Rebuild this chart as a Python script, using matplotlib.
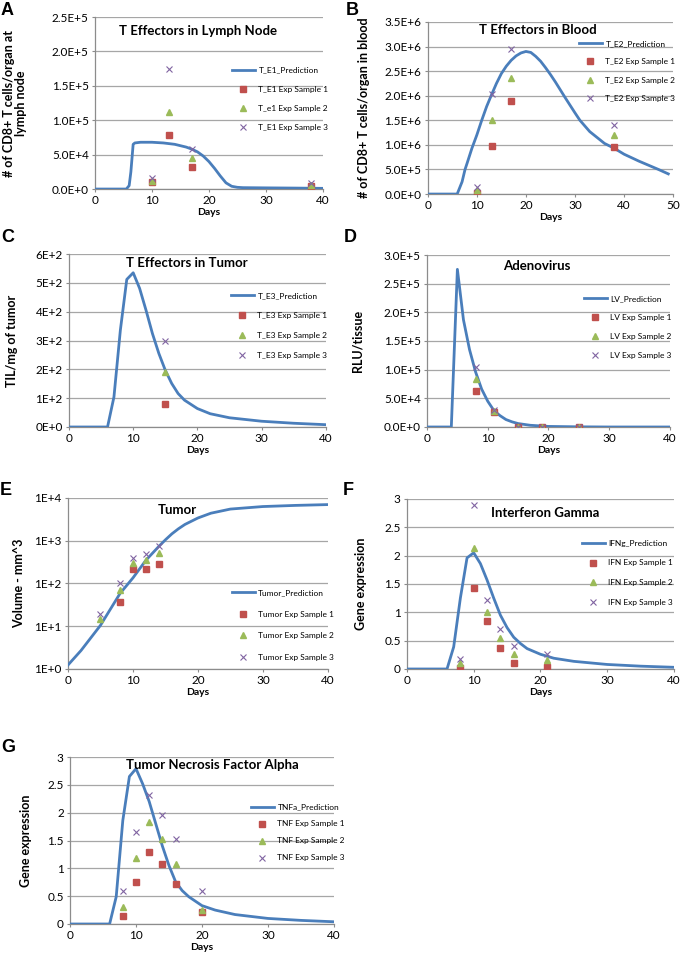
import math
import matplotlib.pyplot as plt
from matplotlib.ticker import FuncFormatter, MultipleLocator, LogLocator
from matplotlib.lines import Line2D

plt.rcParams['font.family'] = ['Lato', 'DejaVu Sans']

# ---- A: T effectors in lymph node
a_days = [0, 5.5, 6, 6.3, 6.7, 7, 8, 10, 12, 14, 16, 17, 18, 19, 20, 21, 22, 23, 24, 25, 26, 30, 35, 40]
a_pred = [0, 0, 5e3, 2.5e4, 6.5e4, 6.7e4, 6.8e4, 6.8e4, 6.7e4, 6.5e4, 6.1e4, 5.8e4, 5.4e4, 4.8e4, 4.0e4,
          3.0e4, 1.9e4, 9e3, 4e3, 2.5e3, 2e3, 1.7e3, 1.4e3, 1e3]
a_exp_days = [10, 13, 17, 38]
a_s1 = [1.0e4, 7.8e4, 3.2e4, 5e3]
a_s2 = [1.2e4, 1.12e5, 4.5e4, 6e3]
a_s3 = [1.6e4, 1.74e5, 5.8e4, 9e3]
a_labels = ["T_E1_Prediction", "T_E1 Exp Sample 1", "T_e1 Exp Sample 2", "T_E1 Exp Sample 3"]

# ---- B: T effectors in blood
b_days = [0, 6, 7, 7.6, 8, 9, 10, 11, 12, 13, 14, 15, 16, 17, 18, 19, 20, 21, 22, 23, 24, 25, 26, 27, 28,
          30, 31, 33, 36, 38, 40, 43, 47, 49]
b_pred = [0, 0, 0.25e6, 0.5e6, 0.62e6, 0.93e6, 1.2e6, 1.5e6, 1.78e6, 2.02e6, 2.25e6, 2.45e6, 2.6e6, 2.72e6,
          2.81e6, 2.87e6, 2.9e6, 2.88e6, 2.8e6, 2.7e6, 2.57e6, 2.43e6, 2.28e6, 2.12e6, 1.96e6,
          1.65e6, 1.5e6, 1.27e6, 1.03e6, 0.93e6, 0.81e6, 0.67e6, 0.5e6, 0.41e6]
b_exp_days = [10, 13, 17, 38]
b_s1 = [0.03e6, 0.97e6, 1.9e6, 0.95e6]
b_s2 = [0.09e6, 1.5e6, 2.35e6, 1.2e6]
b_s3 = [0.15e6, 2.03e6, 2.95e6, 1.4e6]
b_labels = ["T_E2_Prediction", "T_E2 Exp Sample 1", "T_E2 Exp Sample 2", "T_E2 Exp Sample 3"]

# ---- C: T effectors in tumor
c_days = [0, 6, 7, 8, 9, 10, 11, 12, 13, 14, 15, 16, 17, 18, 20, 22, 25, 30, 35, 40]
c_pred = [0, 0, 104, 336, 512, 535, 481, 405, 324, 255, 197, 151, 116, 93, 64, 46, 32, 20, 13, 8]
c_exp_days = [15]
c_s1 = [80]
c_s2 = [190]
c_s3 = [300]
c_labels = ["T_E3_Prediction", "T_E3 Exp Sample 1", "T_E3 Exp Sample 2", "T_E3 Exp Sample 3"]

# ---- D: adenovirus
d_days = [0, 4, 5, 6, 7, 8, 9, 10, 11, 12, 13, 14, 15, 17, 20, 25, 30, 40]
d_pred = [0, 0, 2.75e5, 1.87e5, 1.35e5, 0.96e5, 0.66e5, 0.45e5, 0.29e5, 0.2e5, 0.13e5, 0.09e5, 0.06e5,
          0.03e5, 0.01e5, 0.003e5, 0, 0]
d_exp_days = [8, 11, 15, 19, 25]
d_s1 = [0.63e5, 0.26e5, 0, 0, 0]
d_s2 = [0.83e5, 0.28e5, 0, 0, 0]
d_s3 = [1.05e5, 0.3e5, 0, 0, 0]
d_labels = ["LV_Prediction", "LV Exp Sample 1", "LV Exp Sample 2", "LV Exp Sample 3"]

# ---- E: tumor volume (log scale)
e_days = [0, 2, 5, 8, 10, 12, 14, 15, 16, 17, 18, 20, 22, 25, 30, 35, 40]
e_pred = [1.24, 2.7, 10.5, 58, 135, 350, 740, 1050, 1450, 1900, 2400, 3400, 4400, 5500, 6300, 6700, 7000]
e_exp_days = [5, 8, 10, 12, 14]
e_s1 = [None, 36, 220, 220, 285]
e_s2 = [14.6, 69, 300, 355, 515]
e_s3 = [19.5, 105, 390, 490, 760]
e_labels = ["Tumor_Prediction", "Tumor Exp Sample 1", "Tumor Exp Sample 2", "Tumor Exp Sample 3"]

# ---- F: interferon gamma
f_days = [0, 6, 7, 8, 9, 10, 11, 12, 13, 14, 15, 16, 17, 18, 20, 22, 25, 30, 35, 40]
f_pred = [0, 0, 0.39, 1.25, 1.96, 2.05, 1.86, 1.57, 1.25, 0.95, 0.73, 0.56, 0.45, 0.36, 0.26, 0.19, 0.135,
          0.08, 0.05, 0.03]
f_exp_days = [8, 10, 12, 14, 16, 21]
f_s1 = [0.02, 1.43, 0.84, 0.37, 0.11, 0.03]
f_s2 = [0.1, 2.14, 1.0, 0.54, 0.27, 0.16]
f_s3 = [0.18, 2.9, 1.21, 0.71, 0.4, 0.27]
f_labels = ["IFNg_Prediction", "IFN Exp Sample 1", "IFN Exp Sample 2", "IFN Exp Sample 3"]

# ---- G: tumor necrosis factor alpha
g_days = [0, 6, 7, 8, 9, 10, 11, 12, 13, 14, 15, 16, 17, 18, 20, 22, 25, 30, 35, 40]
g_pred = [0, 0, 0.49, 1.86, 2.65, 2.79, 2.52, 2.2, 1.8, 1.4, 1.05, 0.76, 0.6, 0.49, 0.33, 0.25, 0.17, 0.1,
          0.065, 0.04]
g_exp_days = [8, 10, 12, 14, 16, 20]
g_s1 = [0.14, 0.76, 1.29, 1.08, 0.72, 0.22]
g_s2 = [0.31, 1.18, 1.83, 1.52, 1.07, 0.25]
g_s3 = [0.6, 1.65, 2.32, 1.96, 1.52, 0.59]
g_labels = ["TNFa_Prediction", "TNF Exp Sample 1", "TNF Exp Sample 2", "TNF Exp Sample 3"]

LINE = "#4A7EBB"
RED = "#C0504D"
GREEN = "#9BBB59"
PURPLE = "#8064A2"
GRID = "#A6A6A6"


def sci_fmt(decimals):
    # Excel style "2.5E+5" labels
    def f(v, pos):
        if v == 0:
            return "0.0E+0" if decimals else "0E+0"
        e = int(math.floor(math.log10(abs(v)) + 1e-9))
        m = v / 10 ** e
        return f"{m:.{decimals}f}E+{e}"
    return FuncFormatter(f)


plain_fmt = FuncFormatter(lambda v, p: f"{v:g}")
log_fmt = FuncFormatter(lambda v, p: f"1E+{int(round(math.log10(v)))}")


def draw_panel(rect, letter, letter_xy, title, title_xy, days, pred, edays, s1, s2, s3, labels,
               xmax, ymax, ystep, yfmt, ylabel, ylabel_x, leg_xy, leg_space, log=False, ylab_size=9):
    ax = fig.add_axes(rect)
    ax.plot(days, pred, color=LINE, lw=2, zorder=3)
    ax.plot(edays, s1, 's', color=RED, ms=4.5, ls='none', zorder=4)
    ax.plot(edays, s2, '^', color=GREEN, ms=5, ls='none', zorder=4)
    ax.plot(edays, s3, 'x', color=PURPLE, ms=5, mew=0.8, ls='none', zorder=5)
    ax.set_xlim(0, xmax)
    ax.xaxis.set_major_locator(MultipleLocator(10))
    if log:
        ax.set_yscale('log')
        ax.set_ylim(1, ymax)
        ax.yaxis.set_major_locator(LogLocator(base=10, numticks=10))
        ax.yaxis.set_minor_locator(plt.NullLocator())
    else:
        ax.set_ylim(0, ymax)
        ax.yaxis.set_major_locator(MultipleLocator(ystep))
    ax.yaxis.set_major_formatter(yfmt)
    ax.yaxis.grid(True, color=GRID, lw=0.9)
    ax.set_axisbelow(True)
    for s in ['top', 'right']:
        ax.spines[s].set_visible(False)
    for s in ['left', 'bottom']:
        ax.spines[s].set_color("#8C8C8C")
        ax.spines[s].set_linewidth(0.9)
    ax.tick_params(axis='both', labelsize=8.5, length=2.5, color="#8C8C8C", pad=2)
    ax.set_xlabel("Days", fontsize=7.5, fontweight='bold', labelpad=1)
    ax.set_ylabel(ylabel, fontsize=ylab_size, fontweight='bold', linespacing=1.0)
    ax.yaxis.set_label_coords(ylabel_x, 0.5)
    ax.text(title_xy[0], title_xy[1], title, transform=ax.transAxes, ha='center', va='center',
            fontsize=9.5, fontweight='bold')
    handles = [Line2D([], [], color=LINE, lw=2),
               Line2D([], [], marker='s', color=RED, ms=4.5, ls='none'),
               Line2D([], [], marker='^', color=GREEN, ms=5, ls='none'),
               Line2D([], [], marker='x', color=PURPLE, ms=5, mew=0.8, ls='none')]
    ax.legend(handles, labels, loc='center left', bbox_to_anchor=leg_xy, frameon=False, fontsize=6,
              handlelength=2.8, handletextpad=0.4, labelspacing=leg_space, borderpad=0, borderaxespad=0)
    fig.text(letter_xy[0] / 680, 1 - letter_xy[1] / 963, letter, family='Liberation Sans',
             fontsize=13, fontweight='bold', va='top', ha='left')
    return ax


fig = plt.figure(figsize=(6.8, 9.63), dpi=100)

draw_panel([0.1397, 0.8037, 0.335, 0.1786], "A", (1, 2), "T Effectors in Lymph Node", (0.45, 0.92),
           a_days, a_pred, a_exp_days, a_s1, a_s2, a_s3, a_labels, 40, 2.5e5, 0.5e5, sci_fmt(1),
           "# of CD8+ T cells/organ at\nlymph node", -0.3, (0.6, 0.526), 1.45, ylab_size=9)
draw_panel([0.629, 0.7985, 0.361, 0.1787], "B", (346, 2), "T Effectors in Blood", (0.45, 0.953),
           b_days, b_pred, b_exp_days, b_s1, b_s2, b_s3, b_labels, 50, 3.5e6, 0.5e6, sci_fmt(1),
           "# of CD8+ T cells/organ in blood", -0.235, (0.615, 0.715), 1.35)
draw_panel([0.1015, 0.5566, 0.3775, 0.1796], "C", (1, 229), "T Effectors in Tumor", (0.46, 0.948),
           c_days, c_pred, c_exp_days, c_s1, c_s2, c_s3, c_labels, 40, 600, 100, sci_fmt(0),
           "TIL/mg of tumor", -0.2, (0.63, 0.587), 1.55)
draw_panel([0.628, 0.5566, 0.357, 0.1786], "D", (344, 229), "Adenovirus", (0.45, 0.936),
           d_days, d_pred, d_exp_days, d_s1, d_s2, d_s3, d_labels, 40, 3e5, 0.5e5, sci_fmt(1),
           "RLU/tissue", -0.26, (0.645, 0.581), 1.45)
draw_panel([0.1, 0.3053, 0.382, 0.1776], "E", (0, 482), "Tumor", (0.42, 0.93),
           e_days, e_pred, e_exp_days, e_s1, e_s2, e_s3, e_labels, 40, 1e4, None, log_fmt,
           "Volume - mm^3", -0.165, (0.63, 0.257), 1.75, log=True)
draw_panel([0.5985, 0.3053, 0.3925, 0.1766], "F", (343, 482), "Interferon Gamma", (0.517, 0.92),
           f_days, f_pred, f_exp_days, f_s1, f_s2, f_s3, f_labels, 40, 3, 0.5, plain_fmt,
           "Gene expression", -0.15, (0.655, 0.565), 1.55)
draw_panel([0.103, 0.0405, 0.388, 0.1734], "G", (1, 739), "Tumor Necrosis Factor Alpha", (0.54, 0.95),
           g_days, g_pred, g_exp_days, g_s1, g_s2, g_s3, g_labels, 40, 3, 0.5, plain_fmt,
           "Gene expression", -0.145, (0.685, 0.548), 1.2)

fig.savefig("out.png", dpi=100)
